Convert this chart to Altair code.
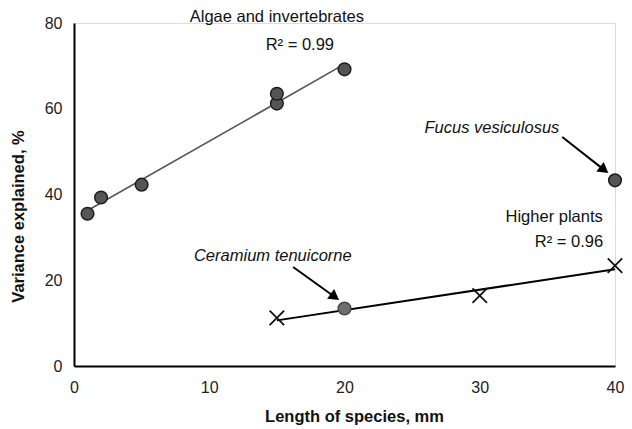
import math
import altair as alt
import pandas as pd

# ---- data ----
algae_x = [1, 2, 5, 15, 15, 20]
algae_y = [35.5, 39.3, 42.3, 61.2, 63.5, 69.2]
plant_x = [15, 30, 40]
plant_y = [11.2, 16.4, 23.4]
special_x = [40, 20]
special_y = [43.3, 13.4]
special_name = ["Fucus vesiculosus", "Ceramium tenuicorne"]

label_text = ["Algae and invertebrates", "R² = 0.99", "Higher plants", "R² = 0.96"]
label_x = [15.0, 16.7, 35.5, 36.6]
label_y = [81.4, 74.9, 34.75, 28.9]

species_x = [30.9, 14.7]
species_y = [55.5, 25.7]

arrow_x1 = [36.1, 16.2]
arrow_y1 = [53.4, 23.1]
arrow_x2 = [39.5, 19.6]
arrow_y2 = [45.0, 15.4]

W, H = 541, 343
XMAX, YMAX = 40, 80
pxx, pxy = W / XMAX, H / YMAX

algae = pd.DataFrame({"x": algae_x, "y": algae_y})
plants = pd.DataFrame({"x": plant_x, "y": plant_y})
special = pd.DataFrame({"x": special_x, "y": special_y, "name": special_name})
labels = pd.DataFrame({"x": label_x, "y": label_y, "t": label_text})
species = pd.DataFrame({"x": species_x, "y": species_y, "t": special_name})

HEAD = 144
h = math.sqrt(3) / 4 * math.sqrt(HEAD)
rows = []
for x1, y1, x2, y2 in zip(arrow_x1, arrow_y1, arrow_x2, arrow_y2):
    dxs = (x2 - x1) * pxx
    dys = -(y2 - y1) * pxy
    L = math.hypot(dxs, dys)
    ang = math.degrees(math.atan2(dxs, -dys)) % 360
    cx = x2 - h * dxs / L / pxx
    cy = y2 + h * dys / L / pxy
    rows.append({"x1": x1, "y1": y1, "x2": cx, "y2": cy, "hx": cx, "hy": cy, "a": ang})
arrows = pd.DataFrame(rows)

xs = alt.Scale(domain=[0, XMAX], nice=False)
ys = alt.Scale(domain=[0, YMAX], nice=False)
FONT = "Liberation Sans"
TXT = 16.5

xax = alt.Axis(values=[0, 10, 20, 30, 40], ticks=False, grid=False, domainColor="#000",
               domainWidth=2, labelFontSize=16, labelColor="#222", labelPadding=13,
               labelFlush=False, labelFont=FONT, title="Length of species, mm",
               titleFont=FONT, titleFontSize=16.5, titleFontWeight="bold",
               titleColor="#111", titleX=280, titleY=50, titleBaseline="middle",
               titleAlign="center")
yax = alt.Axis(values=[0, 20, 40, 60, 80], ticks=False, grid=False, domainColor="#000",
               domainWidth=2, labelFontSize=16, labelColor="#222", labelPadding=12,
               labelFlush=False, labelFont=FONT, title="Variance explained, %",
               titleFont=FONT, titleFontSize=16.5, titleFontWeight="bold",
               titleColor="#111", titleX=-56, titleY=193, titleAngle=-90,
               titleBaseline="middle", titleAlign="center")

algae_line = alt.Chart(algae).transform_regression("x", "y").mark_line(
    color="#555", strokeWidth=1.6).encode(
    x=alt.X("x:Q", scale=xs, axis=xax), y=alt.Y("y:Q", scale=ys, axis=yax))
plant_line = alt.Chart(plants).transform_regression("x", "y").mark_line(
    color="#000", strokeWidth=2).encode(x=alt.X("x:Q", scale=xs), y=alt.Y("y:Q", scale=ys))

algae_pts = alt.Chart(algae).mark_point(filled=True, size=160, fill="#555",
                                        stroke="#1e1e1e", strokeWidth=1.5,
                                        opacity=1).encode(
    x=alt.X("x:Q", scale=xs), y=alt.Y("y:Q", scale=ys))
special_pts = alt.Chart(special).mark_point(filled=True, size=160, opacity=1,
                                            strokeWidth=1.5).encode(
    x=alt.X("x:Q", scale=xs), y=alt.Y("y:Q", scale=ys),
    fill=alt.Fill("name:N", scale=alt.Scale(domain=special_name, range=["#555", "#6e6e6e"]), legend=None),
    stroke=alt.Stroke("name:N", scale=alt.Scale(domain=special_name, range=["#1e1e1e", "#444"]), legend=None))
plant_pts = alt.Chart(plants).mark_point(shape="M-1,-1L1,1M-1,1L1,-1", size=210,
                                         stroke="#111", strokeWidth=1.8, filled=False,
                                         opacity=1).encode(
    x=alt.X("x:Q", scale=xs), y=alt.Y("y:Q", scale=ys))

label_marks = alt.Chart(labels).mark_text(font=FONT, fontSize=TXT, color="#111",
                                          align="center", baseline="middle").encode(
    x=alt.X("x:Q", scale=xs), y=alt.Y("y:Q", scale=ys), text="t:N")
species_marks = alt.Chart(species).mark_text(font=FONT, fontSize=TXT, fontStyle="italic",
                                             color="#111", align="center",
                                             baseline="middle").encode(
    x=alt.X("x:Q", scale=xs), y=alt.Y("y:Q", scale=ys), text="t:N")

shafts = alt.Chart(arrows).mark_rule(color="#000", strokeWidth=2).encode(
    x=alt.X("x1:Q", scale=xs), y=alt.Y("y1:Q", scale=ys), x2="x2:Q", y2="y2:Q")
heads = alt.Chart(arrows).mark_point(shape="triangle-up", size=HEAD, filled=True,
                                     color="#000", opacity=1).encode(
    x=alt.X("hx:Q", scale=xs), y=alt.Y("hy:Q", scale=ys),
    angle=alt.Angle("a:Q", scale=None))

chart = alt.layer(algae_line, plant_line, algae_pts, special_pts, plant_pts,
                  label_marks, species_marks, shafts, heads).properties(
    width=W, height=H, autosize=alt.AutoSizeParams(type="none"),
    padding={"left": 66, "top": 15, "right": 9, "bottom": 60}
).configure_view(stroke=None).configure(background="white")

chart.save("out.html", embed_options={"renderer": "svg", "actions": False})
